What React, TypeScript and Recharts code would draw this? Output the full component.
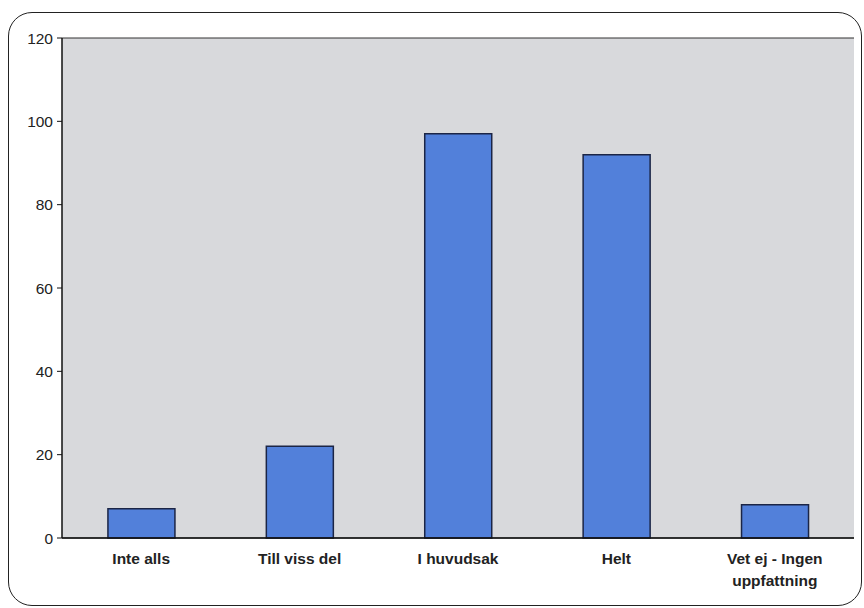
import { BarChart, Bar, XAxis, YAxis, CartesianGrid, Text } from 'recharts';

const categories = ['Inte alls', 'Till viss del', 'I huvudsak', 'Helt', 'Vet ej - Ingen uppfattning'];
const counts = [7, 22, 97, 92, 8];
const yTicks = [0, 20, 40, 60, 80, 100, 120];

const data = categories.map((name, i) => ({ name, count: counts[i] }));

interface TickProps {
  x?: number;
  y?: number;
  payload?: { value: string };
}

function CategoryTick({ x = 0, y = 0, payload }: TickProps) {
  return (
    <Text
      x={x}
      y={y + 7}
      width={130}
      textAnchor="middle"
      verticalAnchor="start"
      lineHeight={22}
      style={{ fontFamily: '"Liberation Sans", Arial, sans-serif', fontSize: 15.5, fontWeight: 700, fill: '#222' }}
    >
      {payload?.value ?? ''}
    </Text>
  );
}

export default function App() {
  return (
    <div style={{ position: 'absolute', left: 0, top: 0, width: 864, height: 608, background: '#fff', overflow: 'hidden' }}>
      <div
        style={{
          position: 'absolute',
          left: 8,
          top: 12,
          width: 852,
          height: 592,
          border: '1.5px solid #222',
          borderRadius: 24,
        }}
      />
      <div style={{ position: 'absolute', left: 0, top: 0 }}>
        <BarChart
          width={864}
          height={608}
          data={data}
          margin={{ top: 38, right: 10, left: 0, bottom: 20 }}
          barCategoryGap="29%"
        >
          <CartesianGrid
            vertical={false}
            fill="#d8d9dc"
            fillOpacity={1}
            stroke="#333"
            strokeWidth={1}
          />
          <XAxis
            dataKey="name"
            height={50}
            axisLine={{ stroke: '#111', strokeWidth: 1.5 }}
            tickLine={false}
            tick={<CategoryTick />}
            interval={0}
          />
          <YAxis
            yAxisId="left"
            width={62}
            domain={[0, 120]}
            ticks={yTicks}
            interval={0}
            axisLine={{ stroke: '#111', strokeWidth: 1.5 }}
            tickLine={{ stroke: '#111' }}
            tickSize={5}
            tickMargin={4}
            tick={{ fill: '#222', fontSize: 15.5, fontFamily: '"Liberation Sans", Arial, sans-serif' }}
          />
          <YAxis
            yAxisId="right"
            orientation="right"
            width={0}
            domain={[0, 120]}
            tick={false}
            tickLine={false}
            axisLine={{ stroke: '#777', strokeWidth: 1.5 }}
          />
          <Bar
            yAxisId="left"
            dataKey="count"
            fill="#5280da"
            stroke="#1b2546"
            strokeWidth={1.5}
            isAnimationActive={false}
          />
        </BarChart>
      </div>
    </div>
  );
}
